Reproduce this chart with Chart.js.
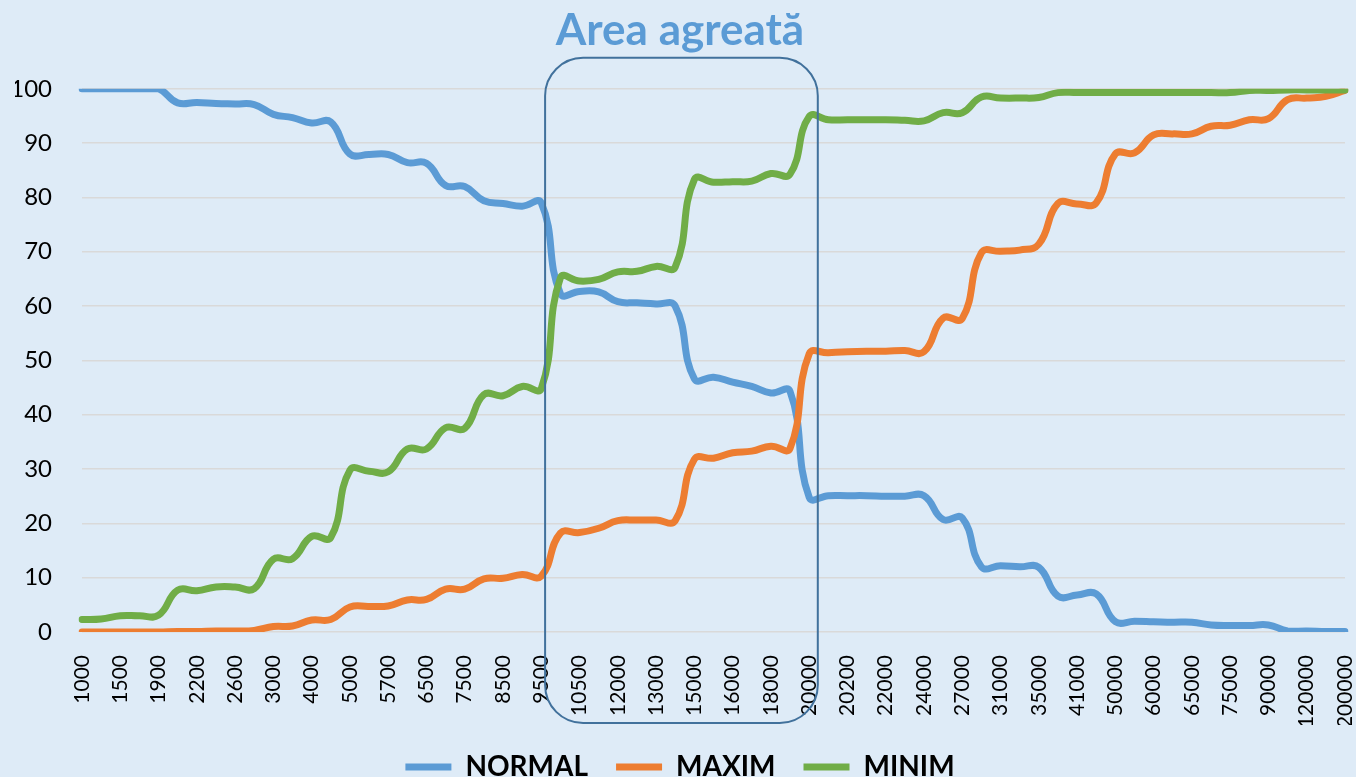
<!DOCTYPE html>
<html>
<head>
<meta charset="utf-8">
<script src="https://cdn.jsdelivr.net/npm/chart.js@4.4.1/dist/chart.umd.min.js"></script>
<style>
  html, body { margin: 0; padding: 0; background: #DEEBF7; }
  #wrap { width: 1356px; height: 777px; }
</style>
</head>
<body>
<div id="wrap"><canvas id="area"></canvas></div>
<script>
// categories (every second one is labelled on the axis)
const categories = ['1000', '1200', '1500', '1700', '1900', '2000', '2200', '2400', '2600', '2800',
    '3000', '3500', '4000', '4500', '5000', '5500', '5700', '6000', '6500', '7000',
    '7500', '8000', '8500', '9000', '9500', '10000', '10500', '11000', '12000', '12500',
    '13000', '14000', '15000', '15500', '16000', '17000', '18000', '19000', '20000', '20100',
    '20200', '21000', '22000', '23000', '24000', '25000', '27000', '30000', '31000', '33000',
    '35000', '40000', '41000', '45000', '50000', '55000', '60000', '62000', '65000', '70000',
    '75000', '80000', '90000', '100000', '120000', '150000', '200000'];

const normal = [100, 100, 100, 100, 100, 97.4, 97.5, 97.3, 97.2, 97.1,
    95.3, 94.7, 93.7, 93.9, 88.0, 87.9, 87.9, 86.4, 86.3, 82.2,
    82.0, 79.4, 78.9, 78.4, 79.0, 62.3, 62.7, 62.6, 60.8, 60.6,
    60.4, 60.0, 46.6, 46.9, 46.0, 45.2, 44.0, 44.3, 24.8, 25.1,
    25.1, 25.1, 25.0, 25.0, 25.1, 20.7, 21.0, 12.0, 12.2, 12.0,
    11.9, 6.6, 6.8, 7.0, 1.9, 2.0, 1.9, 1.8, 1.8, 1.3,
    1.2, 1.2, 1.3, 0.2, 0.2, 0.1, 0.1];

const maxim = [0, 0, 0, 0, 0, 0.1, 0.1, 0.2, 0.2, 0.3,
    1.0, 1.1, 2.2, 2.3, 4.6, 4.7, 4.8, 5.9, 6.0, 7.9,
    7.9, 9.8, 9.9, 10.6, 10.3, 18.2, 18.3, 19.1, 20.5, 20.6,
    20.6, 20.5, 31.8, 32.0, 33.0, 33.3, 34.2, 33.8, 51.2, 51.4,
    51.6, 51.7, 51.7, 51.8, 51.6, 57.8, 57.7, 69.8, 70.1, 70.3,
    71.4, 78.9, 78.8, 79.0, 88.0, 88.2, 91.5, 91.7, 91.7, 93.1,
    93.3, 94.3, 94.5, 98.0, 98.3, 98.6, 99.7];

const minim = [2.3, 2.4, 3.0, 3.0, 3.1, 7.7, 7.6, 8.3, 8.3, 8.0,
    13.4, 13.5, 17.6, 17.4, 29.8, 29.6, 29.5, 33.7, 33.7, 37.6,
    37.5, 43.7, 43.5, 45.2, 44.8, 65.2, 64.6, 64.9, 66.3, 66.4,
    67.3, 67.2, 83.3, 82.8, 82.9, 83.0, 84.4, 84.3, 94.9, 94.3,
    94.3, 94.3, 94.3, 94.2, 94.1, 95.6, 95.6, 98.5, 98.3, 98.3,
    98.4, 99.3, 99.3, 99.3, 99.3, 99.3, 99.3, 99.3, 99.3, 99.3,
    99.3, 99.7, 99.7, 99.8, 99.8, 99.8, 99.8];

// the "aggregated area" box goes from 9500 to 20000
const boxFrom = '9500';
const boxTo = '20000';

// background + rounded box
const areaBox = {
    id: 'areaBox',
    beforeDraw(chart) {
        const c = chart.ctx;
        c.save();
        c.fillStyle = '#DEEBF7';
        c.fillRect(0, 0, chart.width, chart.height);
        c.restore();
    },
    afterDraw(chart) {
        const c = chart.ctx;
        const x = chart.scales.x, y = chart.scales.y;
        const step = x.getPixelForValue(1) - x.getPixelForValue(0);
        const left = x.getPixelForValue(categories.indexOf(boxFrom)) + step * 0.2;
        const right = x.getPixelForValue(categories.indexOf(boxTo)) + step * 0.45;
        const top = y.getPixelForValue(100) - 31;
        const bottom = chart.chartArea.bottom + 91;
        c.save();
        c.strokeStyle = '#41719C';
        c.lineWidth = 2;
        c.beginPath();
        c.roundRect(left, top, right - left, bottom - top, 38);
        c.stroke();
        c.restore();
    }
};

const ctx = document.getElementById('area').getContext('2d');
const area = new Chart(ctx, {
    type: 'line',
    data: {
        labels: categories,
        datasets: [
            { label: 'NORMAL', data: normal, borderColor: '#5B9BD5', backgroundColor: '#5B9BD5', borderWidth: 7, order: 3 },
            { label: 'MAXIM', data: maxim, borderColor: '#ED7D31', backgroundColor: '#ED7D31', borderWidth: 7, order: 2 },
            { label: 'MINIM', data: minim, borderColor: '#70AD47', backgroundColor: '#70AD47', borderWidth: 7, order: 1 }
        ]
    },
    options: {
        responsive: true,
        maintainAspectRatio: false,
        animation: false,
        layout: { padding: { left: 15, right: 11, top: 0, bottom: -14 } },
        elements: {
            line: { tension: 0.45, borderCapStyle: 'round', borderJoinStyle: 'round' },
            point: { radius: 0 }
        },
        scales: {
            x: {
                grid: { display: false },
                border: { display: false },
                ticks: {
                    autoSkip: false,
                    maxRotation: 90,
                    minRotation: 90,
                    padding: 15,
                    color: '#000',
                    font: { family: 'Lato', size: 21 },
                    callback: function (v, i) { return i % 2 === 0 ? categories[i] : ''; }
                },
                afterFit(scale) {
                    scale.height = 93;
                    scale.paddingRight = 0;
                    scale.paddingLeft = 0;
                }
            },
            y: {
                min: 0,
                max: 100,
                border: { display: false },
                grid: { color: '#D9D9D9', lineWidth: 1.5, drawTicks: false },
                ticks: { stepSize: 10, padding: 30, color: '#000', font: { family: 'Lato', size: 24 } },
                afterFit(scale) { scale.width = 67; }
            }
        },
        plugins: {
            tooltip: { enabled: false },
            title: {
                display: true,
                text: 'Area agreată',
                color: '#5B9BD5',
                font: { family: 'Lato', size: 44, weight: 'bold' },
                padding: { top: 4, bottom: 32 }
            },
            legend: {
                display: true,
                position: 'bottom',
                labels: {
                    usePointStyle: true,
                    pointStyle: 'line',
                    pointStyleWidth: 46,
                    padding: 28,
                    color: '#000',
                    font: { family: 'Lato', size: 28, weight: 'bold' },
                    sort: (a, b) => a.datasetIndex - b.datasetIndex
                }
            }
        }
    },
    plugins: [areaBox]
});
</script>
</body>
</html>
